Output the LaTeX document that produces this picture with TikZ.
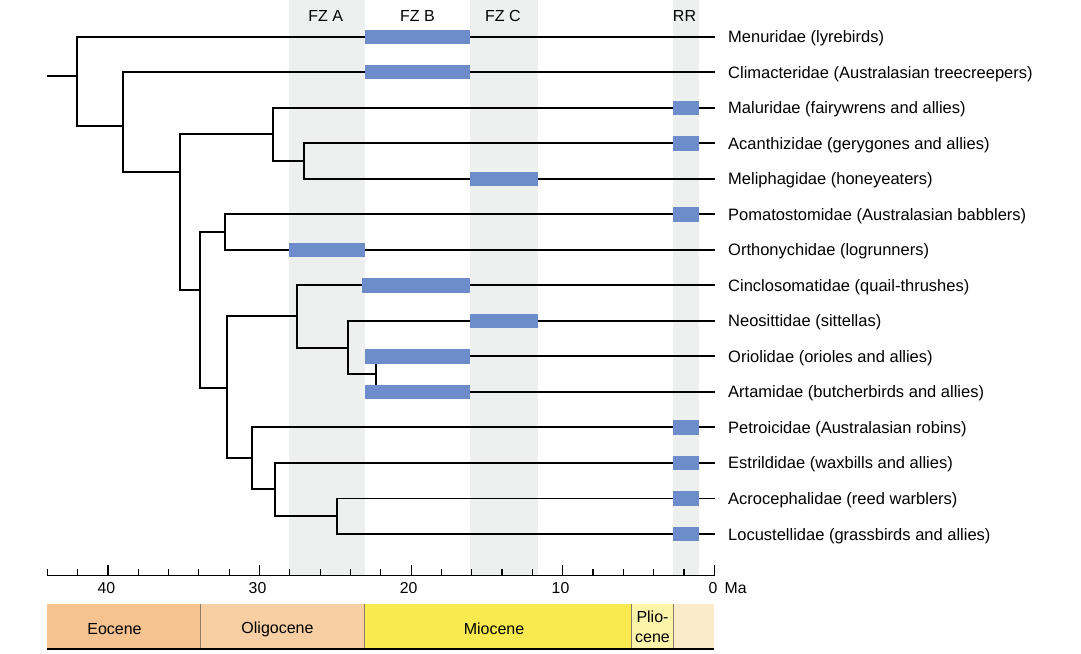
\documentclass[tikz,border=0pt]{standalone}
\usepackage{fontspec}
\setmainfont{Liberation Sans}
\definecolor{bandgray}{HTML}{EEF0EF}
\definecolor{barblue}{HTML}{6C8DC9}
\definecolor{eoc}{HTML}{F5C290}
\definecolor{oli}{HTML}{F7CFA3}
\definecolor{mio}{HTML}{F9EA50}
\definecolor{pli}{HTML}{FCF4A8}
\definecolor{ple}{HTML}{FAEBC9}
\definecolor{epline}{HTML}{8C7B6B}
\begin{document}
\begin{tikzpicture}[x=1pt,y=-1pt,
  branch/.style={line width=1.9pt},
  barbox/.style={fill=barblue},
  bandbox/.style={fill=bandgray},
  leaflab/.style={anchor=base west, inner sep=0pt, font=\fontsize{16.5}{19}\selectfont},
  bandlab/.style={anchor=base, inner sep=0pt, font=\fontsize{16}{19}\selectfont},
  axlab/.style={anchor=base, inner sep=0pt, font=\fontsize{15.8}{19}\selectfont},
  eplab/.style={anchor=center, inner sep=0pt, align=center, font=\fontsize{16}{20}\selectfont},
  tickline/.style={line width=1.2pt}
]
\useasboundingbox (0,0) rectangle (1081,653);

% shaded bands
\fill[bandbox] (289.3,0) rectangle (365,575.7);
\fill[bandbox] (470,0) rectangle (537.7,575.7);
\fill[bandbox] (672.7,0) rectangle (699,575.7);

% band labels
\node[bandlab] (fza) at (325.8,21.8) {FZ A};
\node[bandlab] (fzb) at (417.5,21.8) {FZ B};
\node[bandlab] (fzc) at (502.8,21.8) {FZ C};
\node[bandlab] (rr) at (684.5,21.8) {RR};

% leaf ends
\coordinate (l1) at (715,36.7);
\coordinate (l2) at (715,72.2);
\coordinate (l3) at (715,107.7);
\coordinate (l4) at (715,143.3);
\coordinate (l5) at (715,178.8);
\coordinate (l6) at (715,214.3);
\coordinate (l7) at (715,249.8);
\coordinate (l8) at (715,285.3);
\coordinate (l9) at (715,320.9);
\coordinate (l10) at (715,356.4);
\coordinate (l11) at (715,391.9);
\coordinate (l12) at (715,427.4);
\coordinate (l13) at (715,462.9);
\coordinate (l14) at (715,498.5);
\coordinate (l15) at (715,534.0);

% internal nodes (x, stem y)
\coordinate (root) at (47,76);
\coordinate (n1) at (76.7,76);
\coordinate (n2) at (123.3,126);
\coordinate (n3) at (180,171.7);
\coordinate (n4) at (272.7,134.3);
\coordinate (n5) at (303.7,161);
\coordinate (n7) at (200,290);
\coordinate (n6) at (225,231.7);
\coordinate (n8) at (227,388);
\coordinate (n9) at (297,316.3);
\coordinate (n10) at (347.7,347.7);
\coordinate (n11) at (376,374.3);
\coordinate (n12) at (252,458);
\coordinate (n13) at (274.7,489.3);
\coordinate (n14) at (336.7,516);

% branches
\draw[branch] (root) -- (n1);
\draw[branch] (n1) |- (l1);
\draw[branch] (n1) |- (n2);
\draw[branch] (n2) |- (l2);
\draw[branch] (n2) |- (n3);
\draw[branch] (n3) |- (n4);
\draw[branch] (n3) |- (n7);
\draw[branch] (n4) |- (l3);
\draw[branch] (n4) |- (n5);
\draw[branch] (n5) |- (l4);
\draw[branch] (n5) |- (l5);
\draw[branch] (n7) |- (n6);
\draw[branch] (n7) |- (n8);
\draw[branch] (n6) |- (l6);
\draw[branch] (n6) |- (l7);
\draw[branch] (n8) |- (n9);
\draw[branch] (n8) |- (n12);
\draw[branch] (n9) |- (l8);
\draw[branch] (n9) |- (n10);
\draw[branch] (n10) |- (l9);
\draw[branch] (n10) |- (n11);
\draw[branch] (n11) |- (l10);
\draw[branch] (n11) |- (l11);
\draw[branch] (n12) |- (l12);
\draw[branch] (n12) |- (n13);
\draw[branch] (n13) |- (l13);
\draw[branch] (n13) |- (n14);
\draw[branch] (n14) |- (l14);
\draw[branch] (n14) |- (l15);

% fossil bars
\fill[barbox] (365,29.5) rectangle (470,43.9);
\fill[barbox] (365,65.0) rectangle (470,79.4);
\fill[barbox] (672.5,100.5) rectangle (699,114.9);
\fill[barbox] (672.5,136.1) rectangle (699,150.5);
\fill[barbox] (470,171.6) rectangle (537.7,186.0);
\fill[barbox] (672.5,207.1) rectangle (699,221.5);
\fill[barbox] (289.3,242.6) rectangle (365,257.0);
\fill[barbox] (362,278.1) rectangle (470,292.5);
\fill[barbox] (470,313.7) rectangle (537.7,328.1);
\fill[barbox] (365,349.2) rectangle (470,363.6);
\fill[barbox] (365,384.7) rectangle (470,399.1);
\fill[barbox] (672.5,420.2) rectangle (699,434.6);
\fill[barbox] (672.5,455.7) rectangle (699,470.1);
\fill[barbox] (672.5,491.3) rectangle (699,505.7);
\fill[barbox] (672.5,526.8) rectangle (699,541.2);

% leaf labels
\node[leaflab] (t1) at (728,42.7) {Menuridae (lyrebirds)};
\node[leaflab] (t2) at (728,78.2) {Climacteridae (Australasian treecreepers)};
\node[leaflab] (t3) at (728,113.7) {Maluridae (fairywrens and allies)};
\node[leaflab] (t4) at (728,149.3) {Acanthizidae (gerygones and allies)};
\node[leaflab] (t5) at (728,184.8) {Meliphagidae (honeyeaters)};
\node[leaflab] (t6) at (728,220.3) {Pomatostomidae (Australasian babblers)};
\node[leaflab] (t7) at (728,255.8) {Orthonychidae (logrunners)};
\node[leaflab] (t8) at (728,291.3) {Cinclosomatidae (quail-thrushes)};
\node[leaflab] (t9) at (728,326.9) {Neosittidae (sittellas)};
\node[leaflab] (t10) at (728,362.4) {Oriolidae (orioles and allies)};
\node[leaflab] (t11) at (728,397.9) {Artamidae (butcherbirds and allies)};
\node[leaflab] (t12) at (728,433.4) {Petroicidae (Australasian robins)};
\node[leaflab] (t13) at (728,468.9) {Estrildidae (waxbills and allies)};
\node[leaflab] (t14) at (728,504.5) {Acrocephalidae (reed warblers)};
\node[leaflab] (t15) at (728,540.0) {Locustellidae (grassbirds and allies)};

% time axis
\draw[tickline] (47.3,575.7) -- (714.3,575.7);
\foreach \m in {2,4,6,8,12,14,16,18,22,24,26,28,32,34,36,38,42,44}
  \draw[tickline] ({714.3-15.16*\m},575.7) -- ++(0,-6.3);
\foreach \m in {0,10,20,30,40}
  \draw[tickline] ({714.3-15.16*\m},575.7) -- ++(0,-10.3);
\node[axlab] (a40) at (106.3,593.8) {40};
\node[axlab] (a30) at (257.5,593.8) {30};
\node[axlab] (a20) at (408.7,593.8) {20};
\node[axlab] (a10) at (560.5,593.8) {10};
\node[axlab] (a0) at (713,593.8) {0};
\node[axlab, anchor=base west] (ma) at (724.5,593.8) {Ma};

% epochs
\fill[eoc] (47.3,604.3) rectangle (200.7,649);
\fill[oli] (200.7,604.3) rectangle (364.3,649);
\fill[mio] (364.3,604.3) rectangle (631,649);
\fill[pli] (631,604.3) rectangle (673.3,649);
\fill[ple] (673.3,604.3) rectangle (714.3,649);
\foreach \bx in {200.7,364.3,631,673.3}
  \draw[epline, line width=1pt] (\bx,604.3) -- (\bx,649);
\draw[line width=1.3pt] (47.3,649) -- (714.3,649);
\node[eplab] (eo) at (114.5,629) {Eocene};
\node[eplab] (ol) at (277.5,629) {Oligocene};
\node[eplab] (mi) at (494,629) {Miocene};
\node[eplab] (pl) at (652.5,627) {Plio-\\cene};
\end{tikzpicture}
\end{document}
